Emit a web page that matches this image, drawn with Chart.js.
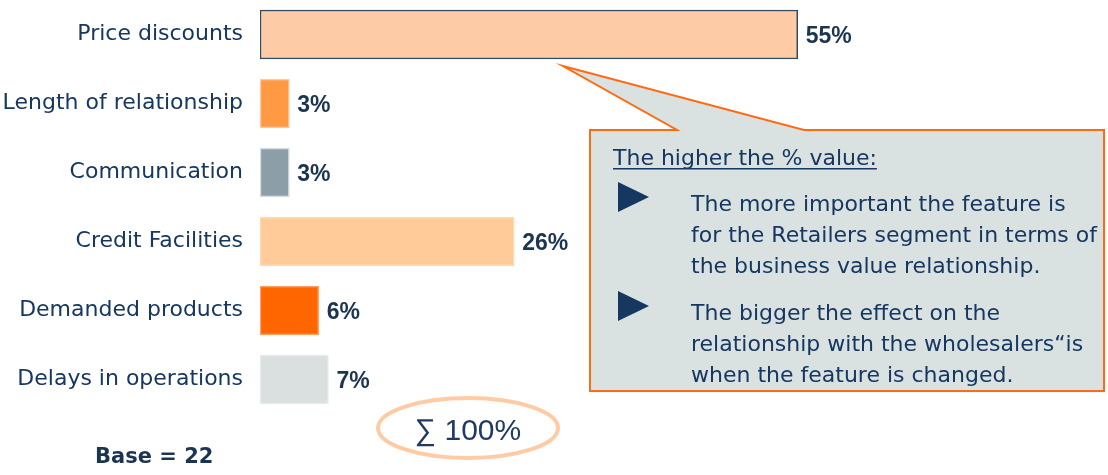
<!DOCTYPE html>
<html>
<head>
<meta charset="utf-8">
<script src="https://cdn.jsdelivr.net/npm/chart.js@4.4.1/dist/chart.umd.min.js"></script>
<style>
  html, body { margin: 0; padding: 0; background: #fff; }
  #wrap { position: relative; width: 1108px; height: 475px; overflow: hidden; }
  #chart { position: absolute; left: 0; top: 0; }
</style>
</head>
<body>
<div id="wrap"><canvas id="chart" width="1108" height="475"></canvas></div>
<script>
const categories = ['Price discounts', 'Length of relationship', 'Communication', 'Credit Facilities', 'Demanded products', 'Delays in operations'];
const shares = [55, 3, 3, 26, 6, 7];
const barColors = ['#FDCBA5', '#FF9944', '#8C9FA9', '#FFCC99', '#FF6600', '#D9E0DF'];
const barBorders = ['#2F4B60', '#FFC9A0', '#D6DDE0', '#FFD9B5', '#FFA060', '#E6EBEA'];
const calloutTitle = 'The higher the % value:';
const calloutBullets = [
  ['The more important the feature is', 'for the Retailers segment in terms of', 'the business value relationship.'],
  ['The bigger the effect on the', 'relationship with the wholesalers\u201Cis', 'when the feature is changed.']
];
const sumLabel = '\u2211 100%';
const baseLabel = 'Base = 22';

const NAVY = '#163760';
const ORANGE = '#FF6A13';

// value labels, callout box, sum ellipse, base note
const extras = {
  id: 'extras',
  afterDatasetsDraw(chart) {
    const ctx = chart.ctx;
    const meta = chart.getDatasetMeta(0);

    ctx.save();
    ctx.fillStyle = '#1B3550';
    ctx.font = 'bold 23px "Liberation Sans", Arial, sans-serif';
    ctx.textBaseline = 'middle';
    ctx.textAlign = 'left';
    meta.data.forEach((bar, i) => {
      ctx.fillText(shares[i] + '%', bar.x + 8, bar.y + 2);
    });

    // callout with pointer to the top bar
    const top = meta.data[0];
    const apexX = 563, apexY = top.y + top.height / 2 + 7;
    const L = 590, T = 130, R = 1104, B = 391;
    ctx.beginPath();
    ctx.moveTo(L, T);
    ctx.lineTo(677, T);
    ctx.lineTo(apexX, apexY);
    ctx.lineTo(804, T);
    ctx.lineTo(R, T);
    ctx.lineTo(R, B);
    ctx.lineTo(L, B);
    ctx.closePath();
    ctx.fillStyle = '#D9E1E1';
    ctx.fill();
    ctx.strokeStyle = ORANGE;
    ctx.lineWidth = 2;
    ctx.stroke();

    ctx.fillStyle = NAVY;
    ctx.font = '22px "DejaVu Sans", Verdana, sans-serif';
    ctx.textBaseline = 'alphabetic';
    ctx.fillText(calloutTitle, 613, 165);
    const tw = ctx.measureText(calloutTitle).width;
    ctx.fillRect(613, 168, tw, 1.5);

    const bulletTops = [182, 291];
    calloutBullets.forEach((lines, k) => {
      const by = bulletTops[k];
      ctx.beginPath();
      ctx.moveTo(618, by);
      ctx.lineTo(649, by + 15);
      ctx.lineTo(618, by + 30);
      ctx.closePath();
      ctx.fill();
      lines.forEach((line, j) => {
        ctx.fillText(line, 691, by + 29 + j * 31);
      });
    });

    // sum ellipse
    ctx.beginPath();
    ctx.ellipse(468, 428, 90, 30, 0, 0, Math.PI * 2);
    ctx.strokeStyle = '#FFCBA4';
    ctx.lineWidth = 4;
    ctx.stroke();
    ctx.fillStyle = '#1F3A64';
    ctx.font = '30px "Liberation Sans", Arial, sans-serif';
    ctx.textAlign = 'center';
    ctx.textBaseline = 'middle';
    ctx.fillText(sumLabel, 468, 432);

    ctx.fillStyle = '#1B3550';
    ctx.font = 'bold 21px "DejaVu Sans", Verdana, sans-serif';
    ctx.textAlign = 'left';
    ctx.textBaseline = 'alphabetic';
    ctx.fillText(baseLabel, 95, 463);
    ctx.restore();
  }
};

new Chart(document.getElementById('chart'), {
  type: 'bar',
  data: {
    labels: categories,
    datasets: [{
      data: shares,
      backgroundColor: barColors,
      borderColor: barBorders,
      borderWidth: 1.5,
      borderSkipped: false,
      barThickness: 49
    }]
  },
  options: {
    indexAxis: 'y',
    responsive: false,
    animation: false,
    layout: { padding: { top: 0, right: 17, bottom: 61, left: 0 } },
    plugins: { legend: { display: false }, tooltip: { enabled: false } },
    scales: {
      x: { display: false, min: 0, max: 85 },
      y: {
        grid: { display: false },
        border: { display: false },
        afterFit: (scale) => {
          scale.width = 260;
          scale.paddingTop = 0;
          scale.paddingBottom = 0;
        },
        ticks: {
          color: NAVY,
          padding: 9,
          font: { family: '"DejaVu Sans", Verdana, sans-serif', size: 22 }
        }
      }
    }
  },
  plugins: [extras]
});
</script>
</body>
</html>
